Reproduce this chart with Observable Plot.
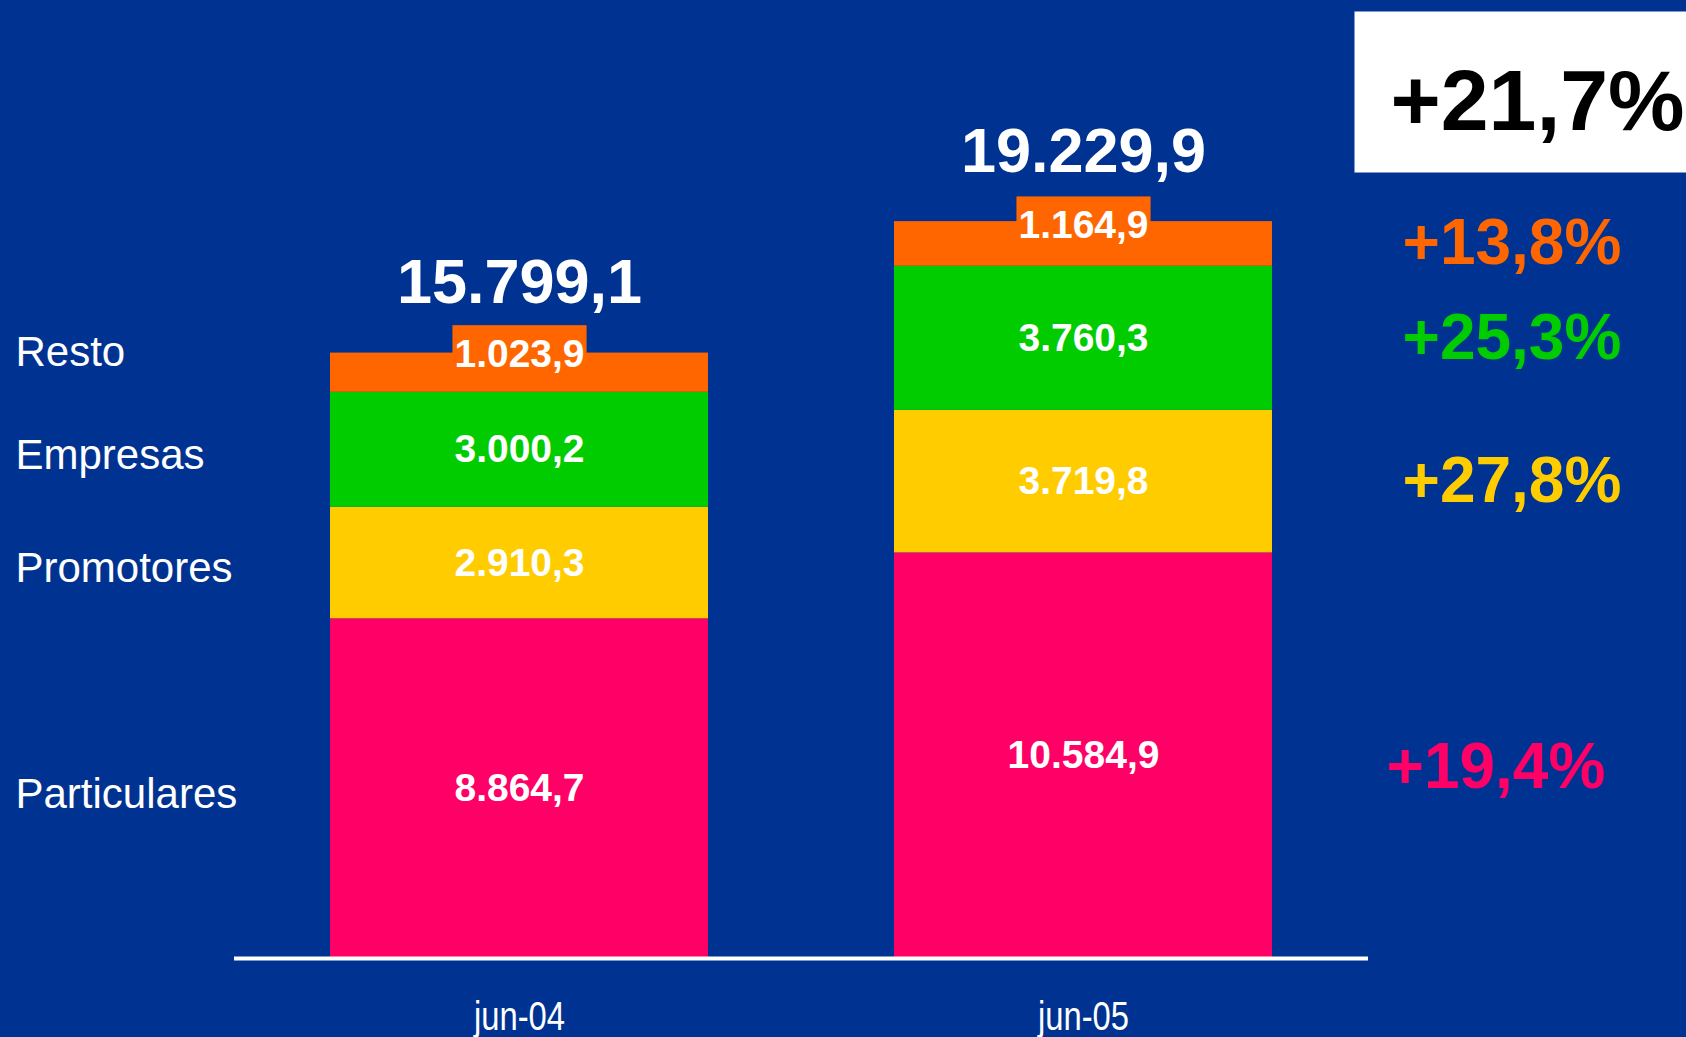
<!DOCTYPE html>
<html><head><meta charset="utf-8">
<script src="https://cdn.jsdelivr.net/npm/d3@7"></script>
<script src="https://cdn.jsdelivr.net/npm/@observablehq/plot@0.6"></script>
<style>
html,body{margin:0;padding:0;background:#003391;overflow:hidden}
</style></head><body><div id="chart"></div>
<script>
const periods = ["jun-04", "jun-05"];
const categories = ["Particulares", "Promotores", "Empresas", "Resto"];
const valuesJun04 = [8864.7, 2910.3, 3000.2, 1023.9];
const valuesJun05 = [10584.9, 3719.8, 3760.3, 1164.9];
const totals = [15799.1, 19229.9];
const growthByCategory = ["+19,4%", "+27,8%", "+25,3%", "+13,8%"];
const totalGrowth = "+21,7%";
const categoryColors = ["#ff0066", "#ffcc00", "#00cc00", "#ff6600"];

const es = d3.formatLocale({decimal: ",", thousands: ".", grouping: [3], currency: ["", " €"]});
const fmt = es.format(",.1f");

const rows = [];
periods.forEach((p, i) => {
  const vals = i === 0 ? valuesJun04 : valuesJun05;
  categories.forEach((c, j) => rows.push({period: p, category: c, value: vals[j], growth: growthByCategory[j]}));
});
const rows04 = rows.filter(d => d.period === "jun-04");
const rows05 = rows.filter(d => d.period === "jun-05");
const totalRows = periods.map((p, i) => ({period: p, total: totals[i]}));

const font = "'Liberation Sans', Arial, Helvetica, sans-serif";

const chart = Plot.plot({
  width: 1686, height: 1037,
  marginTop: 0, marginBottom: 79, marginLeft: 234, marginRight: 318,
  style: {background: "#003391", color: "white", fontFamily: font, overflow: "visible"},
  x: {domain: periods, paddingInner: 0.33, paddingOuter: 0.17, label: null},
  y: {domain: [0, 25000], axis: null},
  color: {domain: categories, range: categoryColors},
  marks: [
    Plot.barY(rows, {x: "period", y: "value", fill: "category"}),
    Plot.ruleY([0], {stroke: "white", strokeWidth: 4}),
    Plot.axisX({tickSize: 0, tickPadding: 43, fontSize: 40, fill: "white", label: null,
      ariaDescription: "period-ticks"}),
    // segment values
    Plot.text(rows, Plot.stackY({x: "period", y: "value",
      text: d => d.category === "Resto" ? null : fmt(d.value),
      fill: "white", fontSize: 39, fontWeight: "bold", lineAnchor: "middle"})),
    Plot.text(rows, Plot.stackY({x: "period", y: "value",
      text: d => d.category === "Resto" ? fmt(d.value) : null,
      fill: "white", fontSize: 39, fontWeight: "bold", lineAnchor: "middle", dy: -18,
      ariaDescription: "resto-value"})),
    // totals
    Plot.text(totalRows, {x: "period", y: "total", text: d => fmt(d.total),
      fill: "white", fontSize: 63, fontWeight: "bold", lineAnchor: "bottom", dy: -50}),
    // left category labels
    Plot.text(rows04, Plot.stackY({y: "value",
      text: d => d.category === "Resto" ? null : d.category,
      frameAnchor: "left", textAnchor: "start", dx: -219, dy: 6, fontSize: 42, fill: "white", lineAnchor: "middle"})),
    Plot.text(rows04, Plot.stackY({y: "value",
      text: d => d.category === "Resto" ? d.category : null,
      frameAnchor: "left", textAnchor: "start", dx: -219, dy: -20, fontSize: 42, fill: "white", lineAnchor: "middle"})),
    // growth labels
    Plot.text(rows05, Plot.stackY({y: "value",
      text: d => d.category === "Particulares" ? null : d.growth,
      fill: "category", frameAnchor: "right", textAnchor: "start", dx: 34,
      fontSize: 64, fontWeight: "bold", lineAnchor: "middle"})),
    Plot.text(rows05, Plot.stackY({y: "value",
      text: d => d.category === "Particulares" ? d.growth : null,
      fill: "category", frameAnchor: "right", textAnchor: "start", dx: 18, dy: 12,
      fontSize: 64, fontWeight: "bold", lineAnchor: "middle"})),
    // total growth
    Plot.text([totalGrowth], {frameAnchor: "top-right", text: d => d, textAnchor: "start",
      dx: 22, dy: 129, lineAnchor: "bottom", fontSize: 86, fontWeight: "bold", fill: "black",
      ariaDescription: "total-growth"})
  ]
});
document.getElementById("chart").appendChild(chart);

function addBoxes(svg, label, fill, pad) {
  svg.querySelectorAll(`g[aria-description="${label}"] text`).forEach(t => {
    const bb = t.getBBox();
    const r = document.createElementNS("http://www.w3.org/2000/svg", "rect");
    r.setAttribute("x", bb.x - pad.l);
    r.setAttribute("y", bb.y - pad.t);
    r.setAttribute("width", bb.width + pad.l + pad.r);
    r.setAttribute("height", bb.height + pad.t + pad.b);
    r.setAttribute("fill", fill);
    const tr = t.getAttribute("transform");
    if (tr) r.setAttribute("transform", tr);
    t.parentNode.insertBefore(r, t);
  });
}
addBoxes(chart, "resto-value", "#ff6600", {l: 2, r: 2, t: 7, b: 0});
addBoxes(chart, "total-growth", "white", {l: 36, r: 40, t: 40, b: 25});

// narrow (condensed) tick labels like Arial Narrow
chart.querySelectorAll(`g[aria-description="period-ticks"] text`).forEach(t => {
  const tr = t.getAttribute("transform") || "";
  t.setAttribute("transform", tr + " scale(0.82,1)");
});
</script></body></html>
